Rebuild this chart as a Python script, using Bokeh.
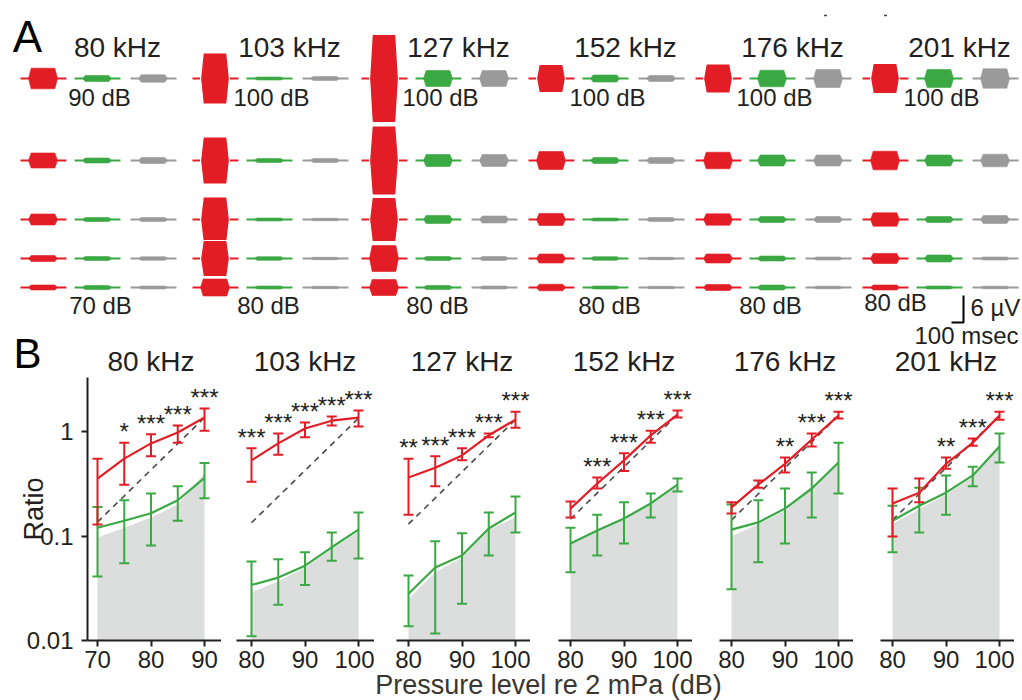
import numpy as np
from bokeh.plotting import figure
from bokeh.models import Range1d, FixedTicker, CustomJSTickFormatter
from bokeh.layouts import column, row
from bokeh.embed import file_html
from bokeh.resources import INLINE
from bokeh.core.properties import value

FONT = "Liberation Sans"
INK = "#231f20"
RED = "#e31d25"
GREEN = "#3aa843"
GRAY = "#9a9a9a"
FILL = "#dcdddd"

# ---------------- data ----------------
freqs = ["80 kHz", "103 kHz", "127 kHz", "152 kHz", "176 kHz", "201 kHz"]
a_top_db = ["90 dB", "100 dB", "100 dB", "100 dB", "100 dB", "100 dB"]
a_bot_db = ["70 dB", "80 dB", "80 dB", "80 dB", "80 dB", "80 dB"]

# Panel A: half-amplitude of each burst (µV); rows from highest to lowest level
a_red = [
    [2.30, 1.67, 1.22, 0.67, 0.55],
    [5.67, 5.22, 5.00, 4.00, 1.89],
    [9.78, 7.67, 4.89, 2.89, 1.78],
    [3.11, 2.00, 1.33, 1.00, 0.73],
    [3.22, 1.84, 1.27, 1.00, 0.67],
    [3.33, 2.07, 1.49, 1.11, 0.55],
]
a_green = [
    [0.67, 0.55, 0.45, 0.45, 0.45],
    [0.33, 0.45, 0.33, 0.40, 0.33],
    [1.78, 1.33, 0.89, 0.45, 0.45],
    [0.78, 0.67, 0.33, 0.40, 0.33],
    [1.84, 1.22, 0.67, 0.55, 0.55],
    [2.00, 1.22, 0.67, 0.78, 0.33],
]
a_gray = [
    [0.82, 0.67, 0.45, 0.40, 0.33],
    [0.45, 0.45, 0.27, 0.27, 0.27],
    [1.78, 1.33, 0.78, 0.45, 0.33],
    [0.67, 0.67, 0.45, 0.27, 0.27],
    [2.00, 1.22, 0.67, 0.33, 0.29],
    [2.16, 1.40, 0.89, 0.33, 0.29],
]

# Panel B
levels = [
    [70, 75, 80, 85, 90],
    [80, 85, 90, 95, 100],
    [80, 85, 90, 95, 100],
    [80, 85, 90, 95, 100],
    [80, 85, 90, 95, 100],
    [80, 85, 90, 95, 100],
]
red_mean = [
    [0.355, 0.55, 0.77, 0.98, 1.36],
    [0.53, 0.77, 1.07, 1.27, 1.36],
    [0.363, 0.45, 0.59, 0.92, 1.30],
    [0.183, 0.318, 0.53, 0.92, 1.45],
    [0.188, 0.31, 0.49, 0.84, 1.42],
    [0.205, 0.26, 0.49, 0.78, 1.42],
]
red_hi = [
    [0.55, 0.78, 0.94, 1.14, 1.66],
    [0.69, 0.96, 1.22, 1.39, 1.59],
    [0.55, 0.58, 0.69, 0.96, 1.55],
    [0.214, 0.363, 0.62, 1.02, 1.59],
    [0.21, 0.34, 0.565, 0.96, 1.55],
    [0.285, 0.355, 0.565, 0.86, 1.55],
]
red_lo = [
    [0.129, 0.31, 0.58, 0.78, 1.02],
    [0.33, 0.60, 0.88, 1.14, 1.12],
    [0.16, 0.30, 0.53, 0.88, 1.09],
    [0.15, 0.285, 0.42, 0.78, 1.36],
    [0.164, 0.29, 0.405, 0.72, 1.33],
    [0.099, 0.21, 0.44, 0.73, 1.30],
]
green_mean = [
    [0.12, 0.14, 0.165, 0.22, 0.36],
    [0.034, 0.040, 0.052, 0.078, 0.115],
    [0.028, 0.050, 0.065, 0.118, 0.168],
    [0.085, 0.113, 0.147, 0.205, 0.31],
    [0.115, 0.135, 0.183, 0.285, 0.505],
    [0.14, 0.195, 0.26, 0.38, 0.72],
]
green_hi = [
    [0.19, 0.22, 0.255, 0.30, 0.50],
    [0.057, 0.060, 0.070, 0.108, 0.168],
    [0.042, 0.089, 0.106, 0.168, 0.239],
    [0.12, 0.16, 0.21, 0.255, 0.355],
    [0.20, 0.22, 0.285, 0.405, 0.78],
    [0.195, 0.29, 0.38, 0.46, 0.96],
]
green_lo = [
    [0.041, 0.055, 0.081, 0.14, 0.23],
    [0.011, 0.022, 0.034, 0.058, 0.061],
    [0.0137, 0.0117, 0.0225, 0.065, 0.108],
    [0.045, 0.065, 0.085, 0.15, 0.267],
    [0.031, 0.056, 0.085, 0.15, 0.255],
    [0.07, 0.108, 0.16, 0.30, 0.505],
]
gray_ratio = [
    [0.097, 0.12, 0.15, 0.20, 0.40],
    [0.029, 0.037, 0.05, 0.075, 0.11],
    [0.025, 0.045, 0.062, 0.115, 0.15],
    [0.085, 0.11, 0.145, 0.20, 0.31],
    [0.099, 0.13, 0.175, 0.28, 0.50],
    [0.13, 0.18, 0.25, 0.37, 0.75],
]
dash_ends = [
    [0.136, 1.36],
    [0.134, 1.34],
    [0.13, 1.30],
    [0.145, 1.45],
    [0.142, 1.42],
    [0.142, 1.42],
]
stars = [
    ["", "*", "***", "***", "***"],
    ["***", "***", "***", "***", "***"],
    ["**", "***", "***", "***", "***"],
    ["", "***", "***", "***", "***"],
    ["", "", "**", "***", "***"],
    ["", "", "**", "***", "***"],
]

# ---------------- layout constants (page pixels) ----------------
PXMS = 0.12      # px per msec in panel A
PXUV = 4.5       # px per µV in panel A
A_W, A_H = 1022, 377
XMIN = -20 / PXMS
XMAX = XMIN + A_W / PXMS
YMAX = 78 / PXUV
YMIN = YMAX - A_H / PXUV


def ax(px):
    return XMIN + px / PXMS


def ay(py):
    return YMAX - py / PXUV


GROUP_PX = [20, 192, 361, 528, 695, 862]
ROW_PX = [78, 160, 219, 258, 287]
TRACE_OFF = [0, 450, 917]     # msec
SEG_LEN, B0, B1, RAMP = 383, 67, 308, 22

pa = figure(width=A_W, height=A_H, x_range=Range1d(XMIN, XMAX), y_range=Range1d(YMIN, YMAX),
            x_axis_location=None, y_axis_location=None, min_border=0,
            output_backend="svg", toolbar_location=None)
pa.grid.visible = False
pa.outline_line_color = None

colors = [RED, GREEN, GRAY]
amps = [a_red, a_green, a_gray]
bx, by, bc = [], [], []
sx, sy, sc = [], [], []
gx, gy = [], []
for g in range(6):
    gt = ax(GROUP_PX[g])
    for k in range(3):
        t0 = gt + TRACE_OFF[k]
        for r in range(5):
            off = ay(ROW_PX[r])
            a = amps[k][g][r]
            bx.append([t0, t0 + SEG_LEN]); by.append([off, off]); bc.append(colors[k])
            xs = [t0 + B0, t0 + B0 + RAMP, t0 + B1 - RAMP, t0 + B1, t0 + B1 - RAMP, t0 + B0 + RAMP]
            ys = [off, off + a, off + a, off, off - a, off - a]
            if a >= 3:
                gx.append(xs); gy.append(ys)
            else:
                sx.append(xs); sy.append(ys); sc.append(colors[k])

pa.multi_line(xs=bx, ys=by, line_color=bc, line_width=1.8)
pa.patches(xs=sx, ys=sy, fill_color=sc, line_color=sc, line_width=0.6)
pa.patches(xs=gx, ys=gy, fill_color=RED, line_color="white", line_width=1.2)
# two faint tick marks at the top right of the reference
pa.scatter(x=[ax(825), ax(885)], y=[ay(15), ay(15)], marker="dash", size=3,
           line_color="#444444", line_width=1.5)

# texts of panel A
pa.text(x=[ax(27)], y=[ay(36)], text=["A"], text_font=value(FONT), text_font_size="44px",
        text_align="center", text_baseline="middle", text_color="black")
pa.text(x=[ax(p + 97) for p in GROUP_PX], y=[ay(47)] * 6, text=freqs, text_font=value(FONT),
        text_font_size="28px", text_align="center", text_baseline="middle", text_color=INK)
pa.text(x=[ax(p + 79) for p in GROUP_PX], y=[ay(97)] * 6, text=a_top_db, text_font=value(FONT),
        text_font_size="24px", text_align="center", text_baseline="middle", text_color=INK)
bot_dx = [80, 76, 76, 81, 75, 33]
pa.text(x=[ax(p + d) for p, d in zip(GROUP_PX, bot_dx)], y=[ay(305)] * 5 + [ay(302)],
        text=a_bot_db, text_font=value(FONT), text_font_size="24px", text_align="center",
        text_baseline="middle", text_color=INK)
# scale bar: 100 msec x 6 µV
cx, cy = ax(963), ay(322)
pa.line(x=[cx - 100, cx, cx], y=[cy, cy, cy + 6], line_color="black", line_width=2)
pa.text(x=[ax(970)], y=[ay(307)], text=["6 µV"], text_font=value(FONT), text_font_size="24px",
        text_align="left", text_baseline="middle", text_color=INK)
pa.text(x=[ax(966)], y=[ay(335)], text=["100 msec"], text_font=value(FONT), text_font_size="24px",
        text_align="center", text_baseline="middle", text_color=INK)

# panel B geometry
PXDB = 5.35
FWS = [134, 138, 134, 134, 134, 134]
FH = 263
T0 = [97, 251, 408, 570, 731, 892]
FL = [87, 236, 396, 558, 719, 880]
pa.text(x=[ax(27)], y=[ay(353)], text=["B"], text_font=value(FONT), text_font_size="42px",
        text_align="center", text_baseline="middle", text_color="black")
pa.text(x=[ax(t + 10 * PXDB) for t in T0], y=[ay(361)] * 6, text=freqs, text_font=value(FONT),
        text_font_size="28px", text_align="center", text_baseline="middle", text_color=INK)


def style_axis(a):
    a.axis_line_width = 2
    a.axis_line_color = INK
    a.major_tick_line_width = 2
    a.major_tick_line_color = INK
    a.major_tick_out = 6
    a.major_tick_in = 0
    a.minor_tick_line_color = None
    a.major_label_text_font = FONT
    a.major_label_text_font_size = "24px"
    a.major_label_text_color = INK


bfigs = []
prev_right = 0
for i in range(6):
    lv = levels[i]
    fw = FWS[i]
    x0 = lv[0] - (T0[i] - FL[i]) / PXDB
    p = figure(frame_width=fw, frame_height=FH, x_range=Range1d(x0, x0 + fw / PXDB),
               y_range=Range1d(0.01, 3.29), y_axis_type="log",
               y_axis_location="left" if i == 0 else None,
               min_border_left=FL[i] - prev_right, min_border_right=0,
               min_border_top=0, min_border_bottom=36,
               output_backend="svg", toolbar_location=None)
    prev_right = FL[i] + fw
    p.grid.visible = False
    p.outline_line_color = None
    p.xaxis.ticker = FixedTicker(ticks=[lv[0], lv[2], lv[4]], minor_ticks=[])
    style_axis(p.xaxis[0])
    p.xaxis.major_label_standoff = 4
    if i == 0:
        p.yaxis.ticker = FixedTicker(ticks=[0.01, 0.1, 1], minor_ticks=[])
        p.yaxis.formatter = CustomJSTickFormatter(code="return tick.toString();")
        style_axis(p.yaxis[0])
        p.yaxis.major_label_standoff = 8
        p.yaxis.axis_label = "Ratio"
        p.yaxis.axis_label_text_font = FONT
        p.yaxis.axis_label_text_font_size = "27px"
        p.yaxis.axis_label_text_font_style = "normal"
        p.yaxis.axis_label_text_color = INK
        p.yaxis.axis_label_standoff = -25

    p.varea(x=lv, y1=[0.01] * len(lv), y2=gray_ratio[i], fill_color=FILL)
    p.line(x=[lv[0], lv[-1]], y=dash_ends[i], line_dash="6 5", line_color="#4a4a4a", line_width=1.6)
    for mean, hi, lo, col in ((green_mean[i], green_hi[i], green_lo[i], GREEN),
                              (red_mean[i], red_hi[i], red_lo[i], RED)):
        p.segment(x0=lv, y0=lo, x1=lv, y1=hi, line_color=col, line_width=2)
        p.scatter(x=lv + lv, y=lo + hi, marker="dash", size=10, line_color=col, line_width=2)
        p.line(x=lv, y=mean, line_color=col, line_width=2.2)
    p.text(x=lv, y=red_hi[i], text=stars[i], text_font=value(FONT), text_font_size="24px",
           text_align="center", text_baseline="middle", y_offset=-11, text_color=INK)
    bfigs.append(p)

brow = row(*bfigs)

# bottom axis title, overlapping the tick-label band (transparent canvas)
pl = figure(width=1022, height=34, x_range=Range1d(0, 1022), y_range=Range1d(34, 0),
            x_axis_location=None, y_axis_location=None, min_border=0,
            output_backend="svg", toolbar_location=None, margin=(-10, 0, 0, 0))
pl.grid.visible = False
pl.outline_line_color = None
pl.background_fill_alpha = 0
pl.border_fill_alpha = 0
pl.text(x=[548], y=[18], text=["Pressure level re 2 mPa (dB)"], text_font=value(FONT),
        text_font_size="27px", text_align="center", text_baseline="middle", text_color="#3a3632")

layout = column(pa, brow, pl)
open("out.html", "w").write(file_html(layout, INLINE))
